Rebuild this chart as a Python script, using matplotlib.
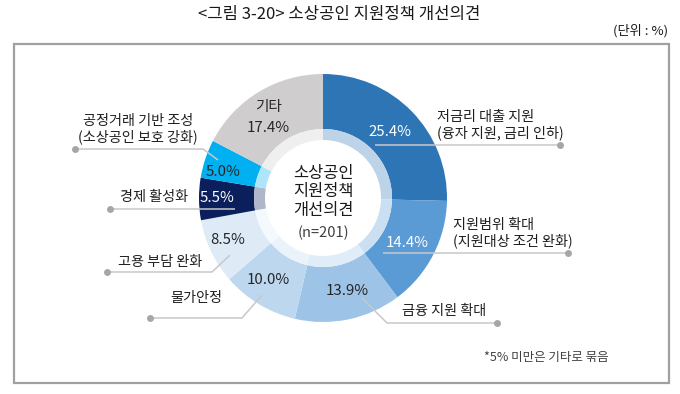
import matplotlib
matplotlib.use("Agg")
import matplotlib.pyplot as plt
from matplotlib.patches import Rectangle
import matplotlib.colors as mcolors

plt.rcParams['font.family'] = ['Noto Sans CJK KR', 'DejaVu Sans']

# ---- data ----
categories = ['저금리 대출 지원\n(융자 지원, 금리 인하)', '지원범위 확대\n(지원대상 조건 완화)', '금융 지원 확대',
              '물가안정', '고용 부담 완화', '경제 활성화', '공정거래 기반 조성\n(소상공인 보호 강화)', '기타']
values = [25.4, 14.4, 13.9, 10.0, 8.5, 5.5, 5.0, 17.4]
pct_labels = ['25.4%', '14.4%', '13.9%', '10.0%', '8.5%', '5.5%', '5.0%', '17.4%']
colors = ['#2E75B6', '#5B9BD5', '#9DC3E6', '#BDD7EE', '#DEEBF7', '#0A1F5C', '#00B0F0', '#CFCDCD']
pct_colors = ['white', 'white', '#262626', '#262626', '#262626', 'white', '#262626', '#262626']

title = '<그림 3-20> 소상공인 지원정책 개선의견'
unit = '(단위 : %)'
center_lines = ['소상공인', '지원정책', '개선의견']
n_label = '(n=201)'
footnote = '*5% 미만은 기타로 묶음'

W, H = 680, 394
fig = plt.figure(figsize=(W / 100, H / 100), dpi=100)
ax = fig.add_axes([0, 0, 1, 1])

cx, cy = 323, 198
R_out, R_ring, R_hole = 124, 69, 58

light = [tuple(0.32 * c + 0.68 for c in mcolors.to_rgb(col)) for col in colors]

ax.pie(values, colors=colors, radius=R_out, center=(cx, cy), startangle=-90, counterclock=True,
       wedgeprops=dict(width=R_out - R_ring, edgecolor='none', linewidth=0))
ax.pie(values, colors=light, radius=R_ring, center=(cx, cy), startangle=-90, counterclock=True,
       wedgeprops=dict(width=R_ring - R_hole, edgecolor='none', linewidth=0))

ax.set_xlim(0, W)
ax.set_ylim(H, 0)
ax.set_aspect('equal')
ax.axis('off')

# frame
ax.add_patch(Rectangle((14, 44), 655, 339, fill=False, edgecolor='#A0A0A0', linewidth=1.6))

# title and unit
ax.text(339, 14, title, ha='center', va='center', fontsize=12, color='#1a1a1a')
ax.text(668, 31, unit, ha='right', va='center', fontsize=9.5, color='#1a1a1a')

MW = 'medium'
# percent labels in segments
pct_pos = [(390, 132), (407, 243), (347, 291), (268, 280), (228, 240), (217, 198), (223, 172), (268, 128)]
for (x, y), t, c in zip(pct_pos, pct_labels, pct_colors):
    ax.text(x, y, t, ha='center', va='center', fontsize=10.8, color=c, fontweight=MW)

ax.text(268, 107, '기타', ha='center', va='center', fontsize=10.5, color='#262626', fontweight=MW)

# leader lines
line_c = '#C8C8C8'
dot_c = '#A6A6A6'
leaders = [
    [(375, 145), (560, 145)],
    [(383, 253), (568, 253)],
    [(362, 298), (387, 323), (497, 323)],
    [(262, 295), (242, 318), (150, 318)],
    [(230, 255), (212, 272), (107, 272)],
    [(235, 209), (110, 209)],
    [(218, 160), (203, 149), (75, 149)],
]
for pts in leaders:
    xs = [p[0] for p in pts]
    ys = [p[1] for p in pts]
    ax.plot(xs, ys, color=line_c, lw=1.1, solid_capstyle='butt')
    ax.plot(xs[-1], ys[-1], 'o', ms=5, color=dot_c, mec='none')

# category labels
lab_c = '#1f1f1f'
fs = 10.2
ax.text(437, 125, categories[0], ha='left', va='center', fontsize=fs, color=lab_c, linespacing=1.15, fontweight=MW)
ax.text(453, 233, categories[1], ha='left', va='center', fontsize=fs, color=lab_c, linespacing=1.15, fontweight=MW)
ax.text(402, 311, categories[2], ha='left', va='center', fontsize=fs, color=lab_c, fontweight=MW)
ax.text(222, 298, categories[3], ha='right', va='center', fontsize=fs, color=lab_c, fontweight=MW)
ax.text(202, 262, categories[4], ha='right', va='center', fontsize=fs, color=lab_c, fontweight=MW)
ax.text(188, 197, categories[5], ha='right', va='center', fontsize=fs, color=lab_c, fontweight=MW)
ax.text(138, 129, categories[6], ha='center', va='center', fontsize=fs, color=lab_c, linespacing=1.15, fontweight=MW)

# center text
for i, t in enumerate(center_lines):
    ax.text(cx, 173 + i * 18.5, t, ha='center', va='center', fontsize=11.8, color='#1a1a1a', fontweight=MW)
ax.text(cx, 233, n_label, ha='center', va='center', fontsize=10.5, color='#404040')

ax.text(484, 357, footnote, ha='left', va='center', fontsize=9, color='#404040')

fig.savefig('out.png', dpi=100)
